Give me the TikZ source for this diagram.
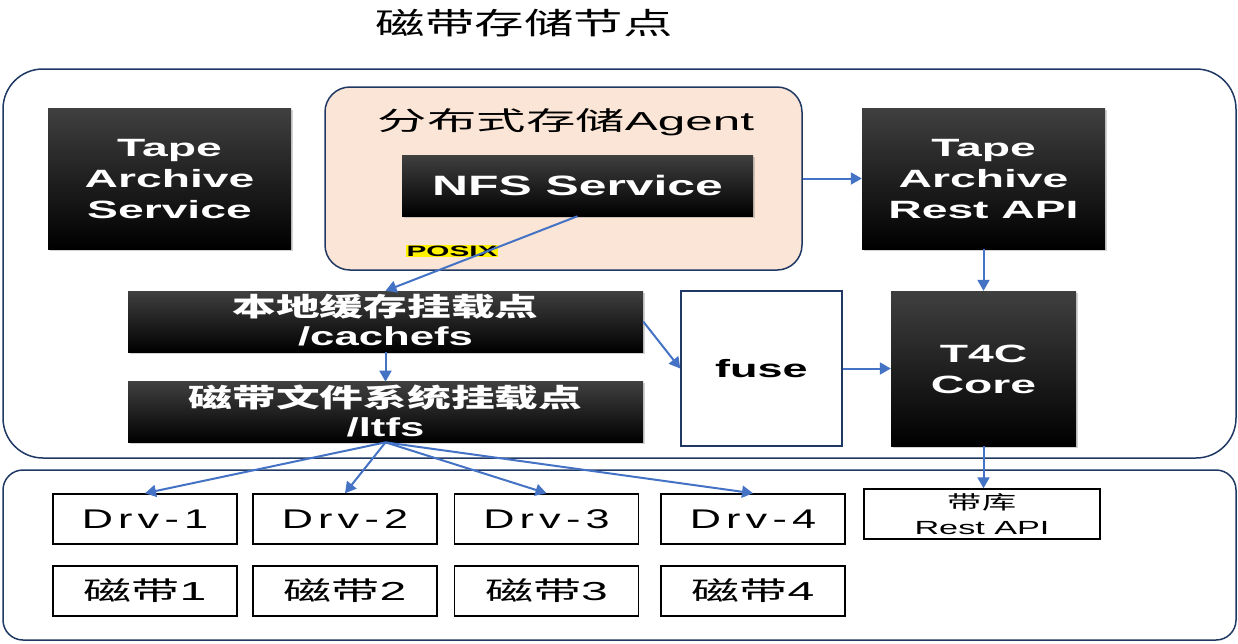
\documentclass[tikz,border=0pt]{standalone}
\usepackage{fontspec}
\usepackage{graphicx}
\setmainfont{Liberation Sans}
\newfontfamily\cjk{Noto Sans CJK SC}
\newfontfamily\spaced[LetterSpace=12]{Liberation Sans}
\usetikzlibrary{shadows,arrows.meta,calc}
\definecolor{arrowblue}{HTML}{4472C4}
\definecolor{myNavy}{HTML}{203864}
\definecolor{peach}{HTML}{FBE5D6}
\newcommand{\sx}[2]{\scalebox{#1}[1]{#2}}
\newcommand{\stack}[1]{\raisebox{-3pt}[\height][\depth]{\begin{tabular}{@{}c@{}}#1\end{tabular}}}
\tikzset{
  container/.style={draw=myNavy, line width=1.5pt, fill=white, inner sep=0pt},
  blackbox/.style={top color=black!75, middle color=black, bottom color=black, text=white, inner sep=0pt,
     drop shadow={shadow xshift=1.5pt, shadow yshift=-1.5pt, opacity=0.35}},
  whitebox/.style={draw=black, line width=1.5pt, fill=white, inner sep=0pt},
  arr/.style={arrowblue, line width=2pt, -{Triangle[length=11pt,width=12pt]}},
  bigw/.style={font=\bfseries\fontsize{25}{31}\selectfont},
  midw/.style={font=\bfseries\fontsize{26}{29}\selectfont},
}
\begin{document}
\begin{tikzpicture}[x=1pt,y=-1pt]
\useasboundingbox (0,0) rectangle (1238,643);
% title
\node[inner sep=0pt] (title) at (524,23) {\sx{1.65}{\fontsize{30}{30}\selectfont\cjk 磁带存储节点}};
% containers
\node[container, rounded corners=40pt, minimum width=1233pt, minimum height=389pt] (upper) at (619.5,263.5) {};
\node[container, rounded corners=20pt, minimum width=1233pt, minimum height=170pt] (lower) at (619.5,555) {};
% agent
\node[draw=myNavy, line width=1.5pt, fill=peach, rounded corners=25pt, minimum width=477pt, minimum height=183pt, inner sep=0pt] (agent) at (563.5,178.5) {};
\node[inner sep=0pt] (agentlbl) at (566,122) {\sx{1.9}{\fontsize{26}{26}\selectfont{\cjk 分布式存储}Agent}};
\node[blackbox, minimum width=351pt, minimum height=61pt, font=\bfseries\fontsize{28}{31}\selectfont] (nfs) at (577.5,185.5) {\sx{1.78}{NFS Service}};
\node[fill=yellow, inner sep=1pt, font=\bfseries\fontsize{15}{15}\selectfont] (posix) at (452,251) {\sx{1.98}{POSIX}};
% black boxes
\node[blackbox, bigw, minimum width=243pt, minimum height=141pt] (tas) at (169.5,178.5) {\sx{1.85}{\stack{Tape\\Archive\\Service}}};
\node[blackbox, bigw, minimum width=243pt, minimum height=141pt] (rest) at (983.5,178.5) {\sx{1.85}{\stack{Tape\\Archive\\Rest API}}};
\node[blackbox, bigw, minimum width=185pt, minimum height=155pt] (t4c) at (983.5,368.5) {\sx{1.85}{\stack{T4C\\Core}}};
\node[blackbox, midw, minimum width=515pt, minimum height=61pt] (cache) at (385.5,321.5) {\sx{1.68}{\stack{{\cjk 本地缓存挂载点}\\/cachefs}}};
\node[blackbox, midw, minimum width=515pt, minimum height=60pt] (ltfs) at (385.5,412) {\sx{1.68}{\stack{{\cjk 磁带文件系统挂载点}\\/ltfs}}};
% fuse
\node[draw=myNavy, line width=1.5pt, fill=white, inner sep=0pt, minimum width=161pt, minimum height=155pt, bigw] (fuse) at (761.5,368.5) {\sx{1.8}{fuse}};
% lower boxes
\node[whitebox, minimum width=236pt, minimum height=50pt, font=\fontsize{19}{25}\selectfont] (lib) at (982,514) {\sx{1.8}{\stack{{\cjk 带库}\\Rest API}}};
\foreach \n/\x in {1/145,2/345,3/546.5,4/753}{
  \node[whitebox, minimum width=184pt, minimum height=50pt, font=\spaced\fontsize{27}{27}\selectfont] (d\n) at (\x,519) {\sx{1.6}{Drv-\n}};
  \node[whitebox, minimum width=184pt, minimum height=50pt, font=\fontsize{26}{26}\selectfont] (t\n) at (\x,591) {\sx{1.85}{{\cjk 磁带}\n}};
}
% arrows
\draw[arr] (agent.east) -- (rest.west);
\draw[arr] (rest.south) -- (t4c.north);
\draw[arr] (nfs.south) -- (cache.north);
\draw[arr] (cache.south) -- (ltfs.north);
\draw[arr] (cache.east) -- (fuse.west);
\draw[arr] (fuse.east) -- (t4c.west);
\draw[arr] (t4c.south) -- (t4c.south |- lib.north);
\foreach \n in {1,2,3,4}{
  \draw[arr] (ltfs.south) -- (d\n.north);
}
\end{tikzpicture}
\end{document}
